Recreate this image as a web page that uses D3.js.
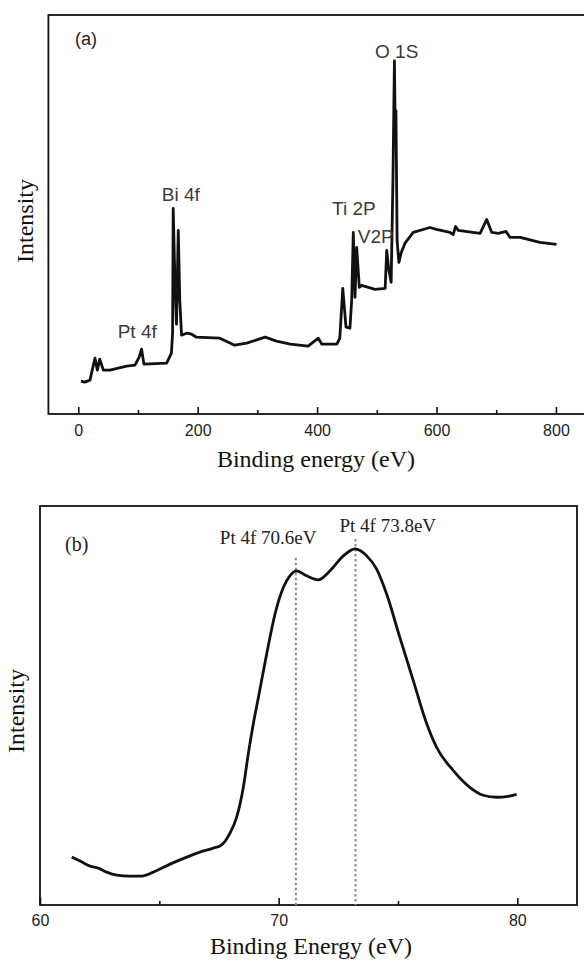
<!DOCTYPE html>
<html>
<head>
<meta charset="utf-8">
<script src="https://cdn.jsdelivr.net/npm/d3@7"></script>
<style>
  body { margin: 0; background: #fff; }
  svg { display: block; }
  .tick text { font-family: 'Liberation Sans', Arial, sans-serif; font-size: 16px; fill: #222; }
  .tick line { stroke: #111; stroke-width: 1.6; }
</style>
</head>
<body>
<div id="chart"></div>
<script>
// survey spectrum (a): binding energy (eV), intensity (a.u.)
const surveyEnergy = [4.5, 11, 19.6, 28, 32, 36, 42, 53, 81, 95, 102, 106, 110, 148, 156, 158, 159, 162, 164.5, 167.5, 170, 173, 181.5, 190, 198, 237, 262, 282, 313, 332, 355, 385, 402, 408, 433, 438, 443, 448.4, 455, 458, 460.6, 463.5, 466.3, 470.7, 474.6, 497, 514, 516.6, 520, 524, 527, 529.5, 531, 532, 534, 537, 541, 547, 561, 589, 600, 622.6, 628, 632, 636.5, 673, 684, 692.5, 703.5, 716.5, 723, 740, 773, 801];
const surveyCounts = [33, 32, 34, 56, 44, 55, 44, 44, 48, 49, 57, 65, 50, 51, 61, 81, 206, 131, 90, 184, 114, 79, 81, 80, 77, 76, 69, 71, 77, 73, 70, 68, 76, 70, 70, 76, 126, 87, 86, 115, 182, 117, 167, 127, 129, 125, 126, 164, 145, 132, 234, 354, 274, 304, 174, 152, 162, 171, 182, 187, 185, 182, 180, 188, 184, 181, 195, 182, 181, 183, 177, 177, 172, 170];
const surveyLabels = [
  { text: 'O 1S', x: 497, y: 357 },
  { text: 'Bi 4f', x: 140, y: 214 },
  { text: 'Ti 2P', x: 425, y: 199 },
  { text: 'V2P', x: 468, y: 171 },
  { text: 'Pt 4f', x: 66, y: 76 }
];
const surveyTicks = [0, 200, 400, 600, 800];
const surveyMinor = [100, 300, 500, 700];

// Pt 4f region (b)
const ptEnergy = [61.33, 61.68, 62.1, 62.44, 62.79, 63.21, 63.77, 64.26, 64.75, 65.45, 66.15, 66.7, 67.26, 67.6, 67.96, 68.24, 68.52, 68.73, 68.94, 69.15, 69.5, 69.85, 70.19, 70.47, 70.75, 71.17, 71.66, 72.15, 72.71, 73.2, 73.69, 74.1, 74.52, 75.08, 75.64, 76.2, 76.62, 77.31, 78.01, 78.57, 79.13, 79.62, 79.97];
const ptCounts = [48, 44, 39, 37, 33, 30, 29, 29, 33, 41, 48, 53, 57, 60, 72, 88, 118, 152, 182, 208, 252, 292, 318, 330, 335, 330, 326, 335, 350, 357, 350, 337, 312, 268, 225, 182, 158, 135, 118, 110, 108, 109, 111];
const ptPeaks = [70.72, 73.22];
const ptPeakTops = [348, 367];
const ptPeakLabels = ['Pt 4f 70.6eV', 'Pt 4f 73.8eV'];
const ptTicks = [60, 70, 80];
const ptMinor = [65, 75];

const W = 584, H = 961;
const svg = d3.select('#chart').append('svg').attr('width', W).attr('height', H);

function panel(opt) {
  const g = svg.append('g');
  const x = d3.scaleLinear().domain(opt.xDomain).range(opt.xRange);
  const y = d3.scaleLinear().domain([0, 400]).range(opt.yRange);

  g.append('g')
    .attr('transform', `translate(0,${opt.yRange[0]})`)
    .call(d3.axisBottom(x).tickValues(opt.ticks).tickSize(-7).tickPadding(opt.pad).tickFormat(d3.format('d')))
    .call(a => a.select('.domain').remove());
  g.append('g')
    .attr('transform', `translate(0,${opt.yRange[0]})`)
    .call(d3.axisBottom(x).tickValues(opt.minor).tickSize(-4).tickFormat(''))
    .call(a => a.select('.domain').remove());

  g.append('rect')
    .attr('x', opt.xRange[0]).attr('y', opt.yRange[1])
    .attr('width', opt.xRange[1] - opt.xRange[0])
    .attr('height', opt.yRange[0] - opt.yRange[1])
    .attr('fill', 'none').attr('stroke', '#111').attr('stroke-width', 1.8);

  g.append('text')
    .attr('x', opt.titleX)
    .attr('y', opt.titleY)
    .attr('text-anchor', 'middle')
    .style('font-family', "'Liberation Serif', 'Times New Roman', serif")
    .style('font-size', '24px').attr('fill', '#111')
    .text(opt.title);

  g.append('text')
    .attr('transform', `translate(${opt.yLabelX},${opt.yLabelY}) rotate(-90)`)
    .attr('text-anchor', 'middle')
    .style('font-family', "'Liberation Serif', 'Times New Roman', serif")
    .style('font-size', '24px').attr('fill', '#111')
    .text('Intensity');

  return { g, x, y };
}

// (a)
const a = panel({
  xDomain: [-50, 850], xRange: [48.4, 585.8], yRange: [414, 15],
  ticks: surveyTicks, minor: surveyMinor, pad: 11,
  title: 'Binding energy (eV)', titleX: 316, titleY: 467,
  yLabelX: 33, yLabelY: 221
});

a.g.append('path')
  .datum(d3.zip(surveyEnergy, surveyCounts))
  .attr('fill', 'none').attr('stroke', '#111').attr('stroke-width', 2.8)
  .attr('stroke-linejoin', 'round')
  .attr('d', d3.line().x(d => a.x(d[0])).y(d => a.y(d[1])));

a.g.selectAll('.lab')
  .data(surveyLabels)
  .enter().append('text')
  .attr('x', d => a.x(d.x)).attr('y', d => a.y(d.y))
  .style('font-family', "'Liberation Sans', Arial, sans-serif")
  .style('font-size', '19px').attr('fill', '#3a3a3a')
  .text(d => d.text);

a.g.append('text')
  .attr('x', 75).attr('y', 45)
  .style('font-family', "'Liberation Sans', Arial, sans-serif")
  .style('font-size', '18px').attr('fill', '#222')
  .text('(a)');

// (b)
const b = panel({
  xDomain: [60, 82.5], xRange: [40, 577], yRange: [905, 506],
  ticks: ptTicks, minor: ptMinor, pad: 10,
  title: 'Binding Energy (eV)', titleX: 311, titleY: 954,
  yLabelX: 24, yLabelY: 711
});

b.g.selectAll('.peak')
  .data(ptPeaks)
  .enter().append('line')
  .attr('x1', d => b.x(d)).attr('x2', d => b.x(d))
  .attr('y1', (d, i) => b.y(ptPeakTops[i])).attr('y2', b.y(0))
  .attr('stroke', '#8a8a8a').attr('stroke-width', 2).attr('stroke-dasharray', '2.5,2.5');

b.g.append('path')
  .datum(d3.zip(ptEnergy, ptCounts))
  .attr('fill', 'none').attr('stroke', '#111').attr('stroke-width', 2.8)
  .attr('d', d3.line().curve(d3.curveMonotoneX).x(d => b.x(d[0])).y(d => b.y(d[1])));

b.g.selectAll('.plab')
  .data(ptPeakLabels)
  .enter().append('text')
  .attr('x', (d, i) => b.x(ptPeaks[i]) + (i === 0 ? -76 : -16))
  .attr('y', (d, i) => i === 0 ? 544 : 532)
  .style('font-family', "'Liberation Serif', 'Times New Roman', serif")
  .style('font-size', '19px').attr('fill', '#222')
  .text(d => d);

b.g.append('text')
  .attr('x', 65).attr('y', 551)
  .style('font-family', "'Liberation Serif', 'Times New Roman', serif")
  .style('font-size', '20px').attr('fill', '#222')
  .text('(b)');
</script>
</body>
</html>
